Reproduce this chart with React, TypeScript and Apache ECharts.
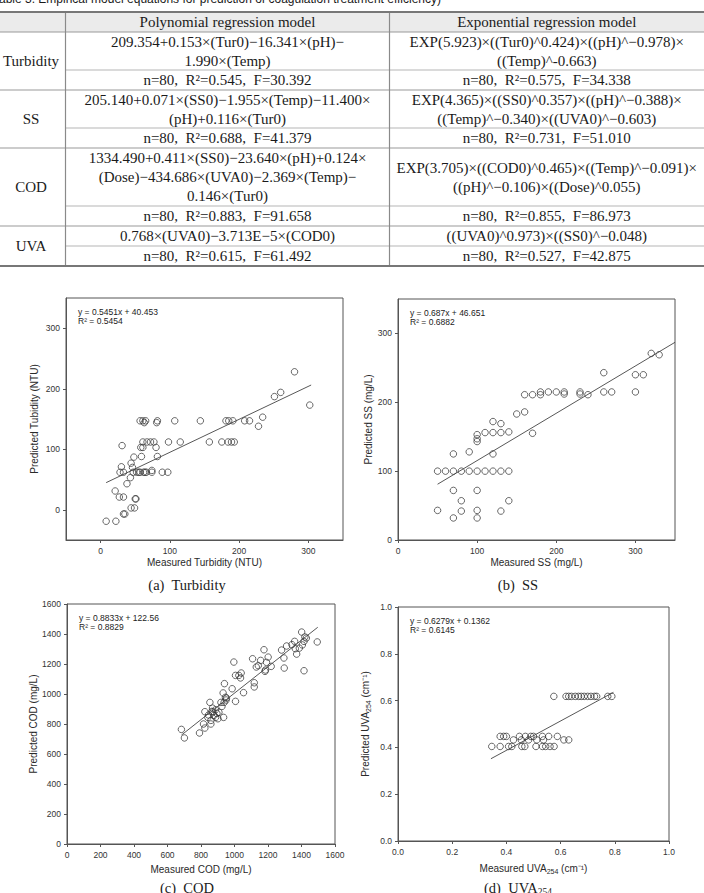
import React, { useEffect, useRef } from "react";
import * as echarts from "echarts";

// ---------- Table data ----------
const tableTitle = "Table 3. Empirical model equations for prediction of coagulation treatment efficiency)";
const tableHeaders = ["Polynomial regression model", "Exponential regression model"];
const rowLabels = ["Turbidity", "SS", "COD", "UVA"];
const polyEquations = [
  ["209.354+0.153×(Tur0)−16.341×(pH)−", "1.990×(Temp)"],
  ["205.140+0.071×(SS0)−1.955×(Temp)−11.400×", "(pH)+0.116×(Tur0)"],
  ["1334.490+0.411×(SS0)−23.640×(pH)+0.124×", "(Dose)−434.686×(UVA0)−2.369×(Temp)−", "0.146×(Tur0)"],
  ["0.768×(UVA0)−3.713E−5×(COD0)"],
];
const expEquations = [
  ["EXP(5.923)×((Tur0)^0.424)×((pH)^−0.978)×", "((Temp)^-0.663)"],
  ["EXP(4.365)×((SS0)^0.357)×((pH)^−0.388)×", "((Temp)^−0.340)×((UVA0)^−0.603)"],
  ["EXP(3.705)×((COD0)^0.465)×((Temp)^−0.091)×", "((pH)^−0.106)×((Dose)^0.055)"],
  ["((UVA0)^0.973)×((SS0)^−0.048)"],
];
const polyStats = [
  "n=80,  R²=0.545,  F=30.392",
  "n=80,  R²=0.688,  F=41.379",
  "n=80,  R²=0.883,  F=91.658",
  "n=80,  R²=0.615,  F=61.492",
];
const expStats = [
  "n=80,  R²=0.575,  F=34.338",
  "n=80,  R²=0.731,  F=51.010",
  "n=80,  R²=0.855,  F=86.973",
  "n=80,  R²=0.527,  F=42.875",
];

// ---------- Chart data ----------
const captions = ["(a)  Turbidity", "(b)  SS", "(c)  COD"];

const turbMeasured = [8, 22, 33, 35, 44, 49, 50, 51, 21, 27, 33, 38, 43, 44, 30, 31, 48, 46, 28, 33, 47, 52, 55, 57, 62, 64, 66, 74, 74, 89, 97, 59, 58, 61, 61, 67, 72, 77, 80, 82, 57, 61, 65, 63, 81, 82, 98, 107, 115, 144, 157, 175, 184, 189, 193, 181, 185, 191, 208, 215, 228, 234, 251, 260, 280, 302];
const turbPredicted = [-19, -19, -7, -7, 3, 3, 18, 18, 31, 21, 21, 43, 53, 77, 71, 106, 87, 70, 62, 62, 62, 62, 62, 62, 62, 62, 62, 62, 65, 62, 62, 88, 103, 103, 112, 112, 112, 112, 103, 88, 147, 147, 147, 144, 144, 147, 112, 147, 112, 147, 112, 112, 112, 112, 112, 147, 147, 147, 147, 147, 138, 153, 187, 194, 228, 173];

const ssMeasured = [50, 60, 70, 80, 90, 100, 110, 120, 130, 140, 50, 70, 70, 70, 80, 80, 90, 100, 100, 100, 100, 100, 100, 110, 120, 120, 120, 130, 130, 140, 140, 130, 150, 160, 170, 160, 170, 180, 180, 190, 200, 210, 210, 230, 230, 240, 260, 260, 270, 300, 300, 310, 320, 330];
const ssPredicted = [100, 100, 100, 100, 100, 100, 100, 100, 100, 100, 43, 32, 72, 125, 57, 42, 128, 72, 43, 32, 143, 147, 153, 156, 156, 172, 125, 156, 169, 157, 57, 42, 183, 186, 155, 211, 211, 211, 215, 215, 215, 215, 212, 215, 212, 211, 215, 243, 215, 215, 240, 240, 271, 269];

const codMeasured = [683, 701, 791, 815, 823, 823, 841, 853, 859, 859, 865, 869, 877, 887, 887, 901, 907, 919, 925, 932, 935, 940, 938, 946, 952, 986, 996, 1006, 1006, 1026, 1036, 1040, 1054, 1108, 1118, 1118, 1130, 1142, 1156, 1176, 1182, 1191, 1201, 1219, 1281, 1295, 1297, 1311, 1343, 1359, 1363, 1371, 1387, 1401, 1405, 1415, 1415, 1429, 1494, 845, 870, 895, 950, 1185, 1420];
const codPredicted = [764, 707, 740, 800, 773, 882, 844, 944, 800, 824, 884, 906, 858, 895, 844, 835, 878, 944, 917, 1007, 844, 1069, 944, 978, 973, 1035, 1213, 951, 1124, 1124, 1107, 1140, 1009, 1235, 1047, 1075, 1180, 1189, 1224, 1295, 1151, 1211, 1246, 1184, 1293, 1240, 1173, 1320, 1329, 1351, 1302, 1266, 1306, 1413, 1327, 1351, 1155, 1373, 1347, 860, 880, 870, 960, 1160, 1380];

const uvaMeasured = [0.575, 0.62, 0.63, 0.64, 0.654, 0.666, 0.676, 0.687, 0.7, 0.712, 0.725, 0.733, 0.774, 0.789, 0.377, 0.39, 0.4, 0.448, 0.47, 0.49, 0.5, 0.533, 0.556, 0.588, 0.426, 0.455, 0.482, 0.512, 0.537, 0.612, 0.63, 0.346, 0.377, 0.408, 0.42, 0.457, 0.468, 0.509, 0.533, 0.545, 0.561, 0.576];
const uvaPredicted = [0.618, 0.618, 0.618, 0.618, 0.618, 0.618, 0.618, 0.618, 0.618, 0.618, 0.618, 0.618, 0.618, 0.618, 0.447, 0.447, 0.447, 0.447, 0.447, 0.447, 0.447, 0.447, 0.447, 0.447, 0.432, 0.432, 0.432, 0.432, 0.432, 0.432, 0.432, 0.404, 0.404, 0.404, 0.404, 0.404, 0.404, 0.404, 0.404, 0.404, 0.404, 0.404];

const fitSlopes = [0.5451, 0.687, 0.8833, 0.6279];
const fitIntercepts = [40.453, 46.651, 122.56, 0.1362];
const fitXRange = [[8, 304], [50, 350], [683, 1497], [0.343, 0.795]];
const fitEquations = ["y = 0.5451x + 40.453", "y = 0.687x + 46.651", "y = 0.8833x + 122.56", "y = 0.6279x + 0.1362"];
const fitR2 = ["R² = 0.5454", "R² = 0.6882", "R² = 0.8829", "R² = 0.6145"];

const axisRanges = [
  { xmin: -50, xmax: 350, ymin: -50, ymax: 350 },
  { xmin: 0, xmax: 350, ymin: 0, ymax: 350 },
  { xmin: 0, xmax: 1600, ymin: 0, ymax: 1600 },
  { xmin: 0, xmax: 1, ymin: 0, ymax: 1 },
];
const tickValuesA = [0, 100, 200, 300];
const tickValuesB = [0, 100, 200, 300];
const xNames = ["Measured Turbidity (NTU)", "Measured SS (mg/L)", "Measured COD (mg/L)", "{a|Measured UVA}{s|254}{a| (cm⁻¹)}"];
const yNames = ["Predicted Tubidity (NTU)", "Predicted SS (mg/L)", "Predicted COD (mg/L)", "{a|Predicted UVA}{s|254}{a| (cm⁻¹)}"];

// ---------- Layout ----------
const grids = [
  { left: 66, top: 298, width: 277, height: 242 },
  { left: 398, top: 299, width: 277, height: 241 },
  { left: 67, top: 604, width: 268, height: 240 },
  { left: 398, top: 607, width: 271, height: 234 },
];
const xNameGaps = [17, 17, 20, 20];
const yNameGaps = [27, 25, 28, 26];

const SERIF = "'Liberation Serif', 'Times New Roman', serif";
const SANS = "'Liberation Sans', Arial, sans-serif";

function txt(text: string, x: number, y: number, opts: any = {}) {
  const align = opts.align || "center";
  return {
    type: "text",
    x,
    y,
    silent: true,
    style: {
      text,
      fill: opts.fill || "#1a1a1a",
      fontSize: opts.fontSize || 15,
      fontFamily: opts.fontFamily || SERIF,
      fontStyle: opts.fontStyle || "normal",
      fontWeight: opts.fontWeight || "normal",
      align,
      textAlign: align,
      verticalAlign: "middle",
      textVerticalAlign: "middle",
      rich: opts.rich,
    },
  };
}

function hline(x1: number, x2: number, y: number, color: string, w: number) {
  return { type: "line", silent: true, shape: { x1, y1: y, x2, y2: y }, style: { stroke: color, lineWidth: w } };
}
function vline(x: number, y1: number, y2: number, color: string, w: number) {
  return { type: "line", silent: true, shape: { x1: x, y1, x2: x, y2 }, style: { stroke: color, lineWidth: w } };
}

function buildTable() {
  const els: any[] = [];
  const W = 704;
  const col1 = 65.5;
  const col2 = 389.5;
  const top = 12;
  const headBottom = 32;
  const groupBounds = [[32, 70, 90], [90, 128, 148], [148, 206, 226], [226, 246, 266]];
  const lineH = 19;

  els.push(txt(tableTitle, -7, -1, { align: "left", fontSize: 12, fontFamily: SANS }));
  els.push({ type: "rect", silent: true, shape: { x: 0, y: top, width: W, height: headBottom - top }, style: { fill: "#ebebeb" } });
  els.push(txt(tableHeaders[0], (col1 + col2) / 2, 22));
  els.push(txt(tableHeaders[1], (col2 + W) / 2, 22));

  groupBounds.forEach((g, i) => {
    const [gTop, split, gBottom] = g;
    els.push(txt(rowLabels[i], 31, (gTop + gBottom) / 2));
    const midEq = (gTop + split) / 2;
    const pe = polyEquations[i];
    pe.forEach((line, k) => {
      els.push(txt(line, (col1 + col2) / 2, midEq + (k - (pe.length - 1) / 2) * lineH));
    });
    const ee = expEquations[i];
    ee.forEach((line, k) => {
      els.push(txt(line, (col2 + W) / 2, midEq + (k - (ee.length - 1) / 2) * lineH));
    });
    const midSt = (split + gBottom) / 2;
    els.push(txt(polyStats[i], (col1 + col2) / 2, midSt));
    els.push(txt(expStats[i], (col2 + W) / 2, midSt));
    els.push(hline(col1, W, split, "#b5b5b5", 1));
    if (i < groupBounds.length - 1) els.push(hline(0, W, gBottom, "#9a9a9a", 1.2));
  });

  els.push(hline(0, W, headBottom, "#9a9a9a", 1.2));
  els.push(vline(col1, top, 266, "#8a8a8a", 1.2));
  els.push(vline(col2, top, 266, "#8a8a8a", 1.2));
  els.push(hline(0, W, top, "#777", 2));
  els.push(hline(0, W, 266, "#777", 2));
  return els;
}

export default function App() {
  const ref = useRef<HTMLDivElement>(null);

  useEffect(() => {
    document.body.style.margin = "0";
    if (!ref.current) return;
    const chart = echarts.init(ref.current, null, { renderer: "svg" });

    const datasets = [
      [turbMeasured, turbPredicted],
      [ssMeasured, ssPredicted],
      [codMeasured, codPredicted],
      [uvaMeasured, uvaPredicted],
    ];

    const richName = {
      a: { fontSize: 10, fontFamily: SANS, color: "#2a2a2a", lineHeight: 14 },
      s: { fontSize: 7, fontFamily: SANS, color: "#2a2a2a", lineHeight: 8, verticalAlign: "bottom" },
    };

    const xAxes = grids.map((_, i) => {
      const r = axisRanges[i];
      const custom = i === 0 ? tickValuesA : i === 1 ? tickValuesB : undefined;
      return {
        type: "value",
        gridIndex: i,
        min: r.xmin,
        max: r.xmax,
        interval: i === 2 ? 200 : i === 3 ? 0.2 : undefined,
        splitLine: { show: false },
        axisLine: { show: true, onZero: false, lineStyle: { color: "#555", width: 1 } },
        axisTick: { show: true, length: 3, lineStyle: { color: "#555" }, ...(custom ? { customValues: custom } : {}) },
        axisLabel: {
          fontSize: 8.5,
          fontFamily: SANS,
          color: "#333",
          margin: 6,
          showMaxLabel: true,
          showMinLabel: true,
          formatter: i === 3 ? (v: number) => v.toFixed(1) : (v: number) => String(v),
          ...(custom ? { customValues: custom } : {}),
        },
        name: xNames[i],
        nameLocation: "middle",
        nameGap: xNameGaps[i],
        nameTextStyle: { fontSize: 10, fontFamily: SANS, color: "#2a2a2a", rich: richName },
      };
    });

    const yAxes = grids.map((_, i) => {
      const r = axisRanges[i];
      const custom = i === 0 ? tickValuesA : i === 1 ? tickValuesB : undefined;
      return {
        type: "value",
        gridIndex: i,
        min: r.ymin,
        max: r.ymax,
        interval: i === 2 ? 200 : i === 3 ? 0.2 : undefined,
        splitLine: { show: false },
        axisLine: { show: true, onZero: false, lineStyle: { color: "#555", width: 1 } },
        axisTick: { show: true, length: 3, lineStyle: { color: "#555" }, ...(custom ? { customValues: custom } : {}) },
        axisLabel: {
          fontSize: 8.5,
          fontFamily: SANS,
          color: "#333",
          margin: 6,
          showMaxLabel: true,
          showMinLabel: true,
          formatter: i === 3 ? (v: number) => v.toFixed(1) : (v: number) => String(v),
          ...(custom ? { customValues: custom } : {}),
        },
        name: yNames[i],
        nameLocation: "middle",
        nameRotate: 90,
        nameGap: yNameGaps[i],
        nameTextStyle: { fontSize: 10, fontFamily: SANS, color: "#2a2a2a", rich: richName },
      };
    });

    const series: any[] = [];
    datasets.forEach(([xs, ys], i) => {
      series.push({
        type: "scatter",
        xAxisIndex: i,
        yAxisIndex: i,
        symbol: "circle",
        symbolSize: 6.5,
        silent: true,
        itemStyle: { color: "rgba(0,0,0,0)", borderColor: "#2e2e2e", borderWidth: 0.9 },
        data: xs.map((x, k) => [x, ys[k]]),
      });
      const [x0, x1] = fitXRange[i];
      series.push({
        type: "line",
        xAxisIndex: i,
        yAxisIndex: i,
        showSymbol: false,
        silent: true,
        lineStyle: { color: "#444", width: 0.9 },
        data: [x0, x1].map((x) => [x, fitSlopes[i] * x + fitIntercepts[i]]),
      });
    });

    const graphics: any[] = buildTable();
    grids.forEach((g, i) => {
      graphics.push(txt(fitEquations[i], g.left + 12, g.top + 13.5, { align: "left", fontSize: 8.5, fontFamily: SANS, fill: "#222" }));
      graphics.push(txt(fitR2[i], g.left + 12, g.top + 22.5, { align: "left", fontSize: 8.5, fontFamily: SANS, fill: "#222" }));
    });
    const capPos = [[187, 585], [518, 585], [187, 888]];
    captions.forEach((c, i) => {
      graphics.push(txt(c, capPos[i][0], capPos[i][1], { fontSize: 14.5 }));
    });
    graphics.push(
      txt("{a|(d)  UVA}{s|254}", 518, 888, {
        fontSize: 14.5,
        rich: {
          a: { fontSize: 14.5, fontFamily: SERIF, fill: "#1a1a1a", lineHeight: 18 },
          s: { fontSize: 9.5, fontFamily: SERIF, fill: "#1a1a1a", lineHeight: 10, verticalAlign: "bottom" },
        },
      })
    );

    chart.setOption({
      animation: false,
      backgroundColor: "#fff",
      grid: grids.map((g) => ({ ...g, show: true, borderColor: "#555", borderWidth: 1, backgroundColor: "transparent", containLabel: false })),
      xAxis: xAxes,
      yAxis: yAxes,
      series,
      graphic: { elements: graphics },
    });

    return () => chart.dispose();
  }, []);

  return <div ref={ref} style={{ width: 704, height: 893 }} />;
}
